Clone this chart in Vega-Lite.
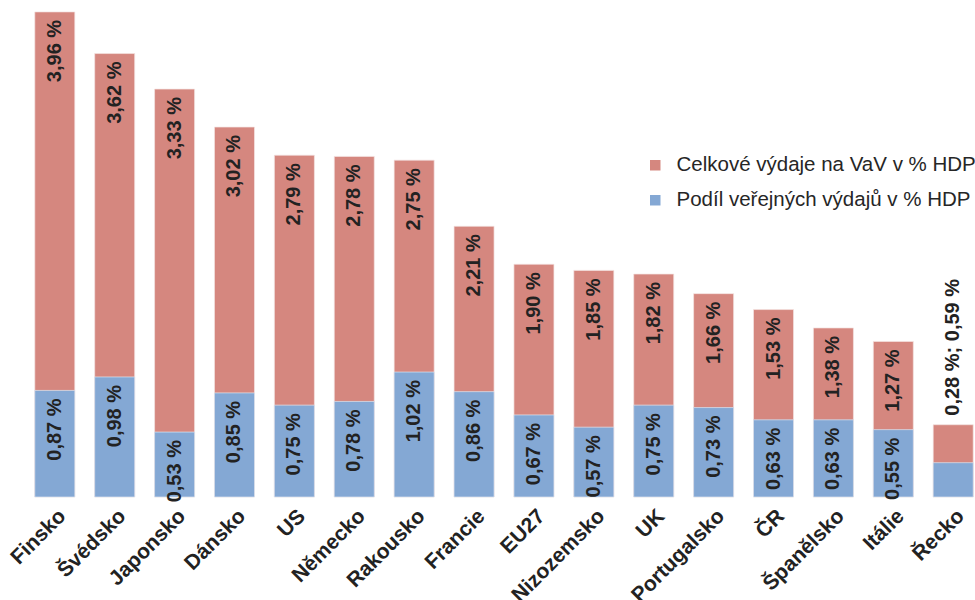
{
  "$schema": "https://vega.github.io/schema/vega-lite/v6.json",
  "width": 942,
  "height": 490,
  "autosize": {"type": "none"},
  "padding": {"left": 33, "top": 7, "right": 0, "bottom": 103},
  "background": "white",
  "config": {"view": {"stroke": null}, "font": "Liberation Sans"},
  "data": {
    "values": [
      {"zeme": "Finsko", "celkem": 3.96, "verejne": 0.87, "popis_c": "3,96 %", "popis_v": "0,87 %"},
      {"zeme": "Švédsko", "celkem": 3.62, "verejne": 0.98, "popis_c": "3,62 %", "popis_v": "0,98 %"},
      {"zeme": "Japonsko", "celkem": 3.33, "verejne": 0.53, "popis_c": "3,33 %", "popis_v": "0,53 %"},
      {"zeme": "Dánsko", "celkem": 3.02, "verejne": 0.85, "popis_c": "3,02 %", "popis_v": "0,85 %"},
      {"zeme": "US", "celkem": 2.79, "verejne": 0.75, "popis_c": "2,79 %", "popis_v": "0,75 %"},
      {"zeme": "Německo", "celkem": 2.78, "verejne": 0.78, "popis_c": "2,78 %", "popis_v": "0,78 %"},
      {"zeme": "Rakousko", "celkem": 2.75, "verejne": 1.02, "popis_c": "2,75 %", "popis_v": "1,02 %"},
      {"zeme": "Francie", "celkem": 2.21, "verejne": 0.86, "popis_c": "2,21 %", "popis_v": "0,86 %"},
      {"zeme": "EU27", "celkem": 1.90, "verejne": 0.67, "popis_c": "1,90 %", "popis_v": "0,67 %"},
      {"zeme": "Nizozemsko", "celkem": 1.85, "verejne": 0.57, "popis_c": "1,85 %", "popis_v": "0,57 %"},
      {"zeme": "UK", "celkem": 1.82, "verejne": 0.75, "popis_c": "1,82 %", "popis_v": "0,75 %"},
      {"zeme": "Portugalsko", "celkem": 1.66, "verejne": 0.73, "popis_c": "1,66 %", "popis_v": "0,73 %"},
      {"zeme": "ČR", "celkem": 1.53, "verejne": 0.63, "popis_c": "1,53 %", "popis_v": "0,63 %"},
      {"zeme": "Španělsko", "celkem": 1.38, "verejne": 0.63, "popis_c": "1,38 %", "popis_v": "0,63 %"},
      {"zeme": "Itálie", "celkem": 1.27, "verejne": 0.55, "popis_c": "1,27 %", "popis_v": "0,55 %"},
      {"zeme": "Řecko", "celkem": 0.59, "verejne": 0.28, "popis_c": "0,28 %; 0,59 %", "popis_v": ""}
    ]
  },
  "encoding": {
    "x": {
      "field": "zeme",
      "type": "nominal",
      "sort": null,
      "scale": {"paddingInner": 0.332, "paddingOuter": 0.03},
      "axis": {
        "title": null,
        "labelAngle": -45,
        "labelFontSize": 21,
        "labelFontWeight": "bold",
        "labelColor": "#222222",
        "labelFont": "Liberation Sans",
        "domain": false,
        "ticks": false,
        "labelPadding": 8,
        "labelOverlap": false,
        "labelLimit": 0
      }
    }
  },
  "layer": [
    {
      "mark": {"type": "bar", "stroke": "#f4e4e2", "strokeWidth": 0.7},
      "encoding": {
        "y": {"field": "celkem", "type": "quantitative", "scale": {"domain": [0, 4]}, "axis": null},
        "color": {
          "datum": "Celkové výdaje na VaV v % HDP",
          "type": "nominal",
          "scale": {
            "domain": ["Celkové výdaje na VaV v % HDP", "Podíl veřejných výdajů v % HDP"],
            "range": ["#D5877F", "#84A8D4"]
          },
          "legend": {
            "title": null,
            "orient": "none",
            "legendX": 612,
            "legendY": 148,
            "symbolType": "square",
            "symbolSize": 110,
            "symbolStrokeWidth": 0,
            "labelFontSize": 20.5,
            "labelFont": "Liberation Sans",
            "labelColor": "#262626",
            "labelOffset": 11,
            "rowPadding": 14,
            "labelLimit": 0
          }
        }
      }
    },
    {
      "mark": {"type": "bar", "stroke": "#dfe6f0", "strokeWidth": 0.7},
      "encoding": {
        "y": {"field": "verejne", "type": "quantitative"},
        "color": {"datum": "Podíl veřejných výdajů v % HDP", "type": "nominal"}
      }
    },
    {
      "transform": [{"filter": "datum.zeme !== 'Řecko'"}],
      "mark": {"type": "text", "angle": 270, "align": "right", "baseline": "middle", "dx": -8, "fontSize": 20, "fontWeight": "bold", "color": "#222222", "font": "Liberation Sans"},
      "encoding": {
        "y": {"field": "celkem", "type": "quantitative"},
        "text": {"field": "popis_c"}
      }
    },
    {
      "transform": [{"filter": "datum.zeme !== 'Řecko'"}],
      "mark": {"type": "text", "angle": 270, "align": "right", "baseline": "middle", "dx": -8, "fontSize": 20, "fontWeight": "bold", "color": "#222222", "font": "Liberation Sans"},
      "encoding": {
        "y": {"field": "verejne", "type": "quantitative"},
        "text": {"field": "popis_v"}
      }
    },
    {
      "transform": [{"filter": "datum.zeme === 'Řecko'"}],
      "mark": {"type": "text", "angle": 270, "align": "left", "baseline": "middle", "dx": 9, "fontSize": 20, "fontWeight": "bold", "color": "#222222", "font": "Liberation Sans"},
      "encoding": {
        "y": {"field": "celkem", "type": "quantitative"},
        "text": {"field": "popis_c"}
      }
    }
  ]
}
